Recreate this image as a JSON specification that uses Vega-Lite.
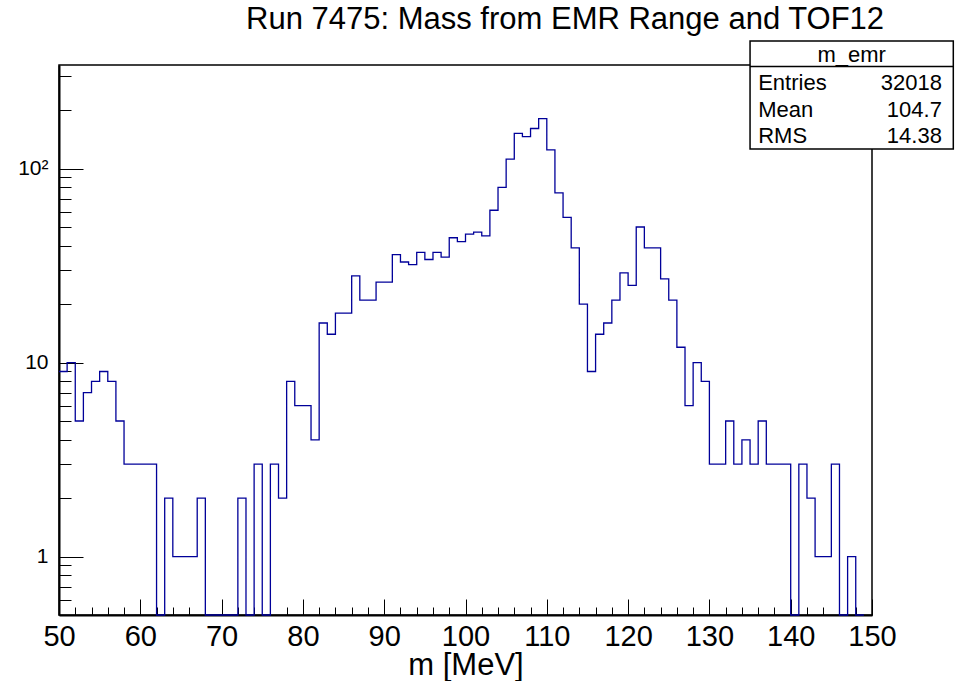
{
  "$schema": "https://vega.github.io/schema/vega-lite/v6.json",
  "width": 813,
  "height": 550,
  "autosize": {"type": "none"},
  "padding": {"left": 59, "top": 65, "right": 85, "bottom": 66},
  "background": "white",
  "title": {
    "text": "Run 7475: Mass from EMR Range and TOF12",
    "anchor": "start",
    "frame": "group",
    "dx": 187,
    "dy": 31,
    "offset": 11,
    "baseline": "alphabetic",
    "font": "Liberation Sans",
    "fontSize": 31,
    "fontWeight": "normal",
    "color": "black"
  },
  "config": {
    "view": {"stroke": "black", "strokeWidth": 1.5},
    "font": "Liberation Sans"
  },
  "resolve": {"scale": {"x": "independent", "y": "independent"}, "axis": {"x": "independent", "y": "independent"}},
  "layer": [
    {
      "data": {
        "values": [
          {"m": 50, "n": 9}, {"m": 51, "n": 10}, {"m": 52, "n": 5}, {"m": 53, "n": 7}, {"m": 54, "n": 8},
          {"m": 55, "n": 9}, {"m": 56, "n": 8}, {"m": 57, "n": 5}, {"m": 58, "n": 3}, {"m": 59, "n": 3},
          {"m": 60, "n": 3}, {"m": 61, "n": 3}, {"m": 62, "n": 0}, {"m": 63, "n": 2}, {"m": 64, "n": 1},
          {"m": 65, "n": 1}, {"m": 66, "n": 1}, {"m": 67, "n": 2}, {"m": 68, "n": 0}, {"m": 69, "n": 0},
          {"m": 70, "n": 0}, {"m": 71, "n": 0}, {"m": 72, "n": 2}, {"m": 73, "n": 0}, {"m": 74, "n": 3},
          {"m": 75, "n": 0}, {"m": 76, "n": 3}, {"m": 77, "n": 2}, {"m": 78, "n": 8}, {"m": 79, "n": 6},
          {"m": 80, "n": 6}, {"m": 81, "n": 4}, {"m": 82, "n": 16}, {"m": 83, "n": 14}, {"m": 84, "n": 18},
          {"m": 85, "n": 18}, {"m": 86, "n": 28}, {"m": 87, "n": 21}, {"m": 88, "n": 21}, {"m": 89, "n": 26},
          {"m": 90, "n": 26}, {"m": 91, "n": 36}, {"m": 92, "n": 33}, {"m": 93, "n": 32}, {"m": 94, "n": 37},
          {"m": 95, "n": 34}, {"m": 96, "n": 37}, {"m": 97, "n": 35}, {"m": 98, "n": 44}, {"m": 99, "n": 42},
          {"m": 100, "n": 46}, {"m": 101, "n": 47}, {"m": 102, "n": 45}, {"m": 103, "n": 61}, {"m": 104, "n": 80},
          {"m": 105, "n": 112}, {"m": 106, "n": 152}, {"m": 107, "n": 146}, {"m": 108, "n": 161}, {"m": 109, "n": 181},
          {"m": 110, "n": 125}, {"m": 111, "n": 75}, {"m": 112, "n": 56}, {"m": 113, "n": 39}, {"m": 114, "n": 20},
          {"m": 115, "n": 9}, {"m": 116, "n": 14}, {"m": 117, "n": 16}, {"m": 118, "n": 21}, {"m": 119, "n": 29},
          {"m": 120, "n": 25}, {"m": 121, "n": 50}, {"m": 122, "n": 39}, {"m": 123, "n": 39}, {"m": 124, "n": 27},
          {"m": 125, "n": 21}, {"m": 126, "n": 12}, {"m": 127, "n": 6}, {"m": 128, "n": 10}, {"m": 129, "n": 8},
          {"m": 130, "n": 3}, {"m": 131, "n": 3}, {"m": 132, "n": 5}, {"m": 133, "n": 3}, {"m": 134, "n": 4},
          {"m": 135, "n": 3}, {"m": 136, "n": 5}, {"m": 137, "n": 3}, {"m": 138, "n": 3}, {"m": 139, "n": 3},
          {"m": 140, "n": 0}, {"m": 141, "n": 3}, {"m": 142, "n": 2}, {"m": 143, "n": 1}, {"m": 144, "n": 1},
          {"m": 145, "n": 3}, {"m": 146, "n": 0}, {"m": 147, "n": 1}, {"m": 148, "n": 0}, {"m": 149, "n": 0}
        ]
      },
      "mark": {"type": "line", "interpolate": "step-after", "color": "#000099", "strokeWidth": 1.3, "invalid": "show"},
      "encoding": {
        "x": {
          "field": "m", "type": "quantitative",
          "scale": {"domain": [50, 150], "nice": false, "zero": false},
          "axis": {
            "orient": "bottom",
            "title": "m [MeV]",
            "titleFont": "Liberation Sans", "titleFontSize": 31, "titleFontWeight": "normal", "titleColor": "black",
            "titlePadding": -9,
            "tickCount": 200,
            "format": "d",
            "values": [50,52,54,56,58,60,62,64,66,68,70,72,74,76,78,80,82,84,86,88,90,92,94,96,98,100,102,104,106,108,110,112,114,116,118,120,122,124,126,128,130,132,134,136,138,140,142,144,146,148,150],
            "labelExpr": "datum.value % 10 === 0 ? datum.label : ''",
            "labelFont": "Liberation Sans", "labelFontSize": 29, "labelColor": "black",
            "labelPadding": 23, "labelFlush": false, "labelOverlap": false,
            "tickSize": {"condition": {"test": "datum.value % 10 === 0", "value": -16}, "value": -8},
            "tickColor": "black", "tickWidth": 1,
            "domainColor": "black", "domainWidth": 2,
            "grid": false
          }
        },
        "y": {
          "field": "n", "type": "quantitative",
          "scale": {"type": "log", "domain": [0.5, 342], "nice": false, "clamp": true},
          "axis": {
            "orient": "left",
            "title": null,
            "tickCount": 200,
            "values": [0.6,0.7,0.8,0.9,1,2,3,4,5,6,7,8,9,10,20,30,40,50,60,70,80,90,100,200,300],
            "labelExpr": "datum.value === 1 ? '1' : datum.value === 10 ? '10' : datum.value === 100 ? '10²' : ''",
            "labelFont": "Liberation Sans", "labelFontSize": 21, "labelColor": "black",
            "labelPadding": 35, "labelOverlap": false, "labelFlush": false,
            "tickSize": {"condition": {"test": "datum.value === 1 || datum.value === 10 || datum.value === 100", "value": -24}, "value": -12},
            "tickColor": "black", "tickWidth": 1,
            "domainColor": "black", "domainWidth": 2,
            "grid": false
          }
        }
      }
    },
    {
      "data": {"values": [{}]},
      "layer": [
        {
          "mark": {"type": "rect", "fill": "white", "stroke": "black", "strokeWidth": 1.5, "clip": false},
          "encoding": {
            "x": {"datum": 135, "type": "quantitative", "scale": {"domain": [50, 150], "nice": false, "zero": false}, "axis": null},
            "x2": {"datum": 160},
            "y": {"datum": 454.8, "type": "quantitative", "scale": {"type": "log", "domain": [0.5, 342], "nice": false}, "axis": null},
            "y2": {"datum": 126.2}
          }
        },
        {
          "mark": {"type": "rule", "stroke": "black", "strokeWidth": 1.5},
          "encoding": {
            "x": {"datum": 135, "type": "quantitative", "scale": {"domain": [50, 150], "nice": false, "zero": false}, "axis": null},
            "x2": {"datum": 160},
            "y": {"datum": 336, "type": "quantitative", "scale": {"type": "log", "domain": [0.5, 342], "nice": false}, "axis": null}
          }
        },
        {
          "mark": {"type": "text", "font": "Liberation Sans", "fontSize": 22, "align": "center", "baseline": "alphabetic", "color": "black"},
          "encoding": {
            "x": {"datum": 147.5, "type": "quantitative", "scale": {"domain": [50, 150], "nice": false, "zero": false}, "axis": null},
            "y": {"datum": 355.7, "type": "quantitative", "scale": {"type": "log", "domain": [0.5, 342], "nice": false}, "axis": null},
            "text": {"value": "m_emr"}
          }
        },
        {
          "mark": {"type": "text", "font": "Liberation Sans", "fontSize": 22, "align": "left", "baseline": "alphabetic", "color": "black"},
          "encoding": {
            "x": {"datum": 136, "type": "quantitative", "scale": {"domain": [50, 150], "nice": false, "zero": false}, "axis": null},
            "y": {"datum": 254.2, "type": "quantitative", "scale": {"type": "log", "domain": [0.5, 342], "nice": false}, "axis": null},
            "text": {"value": "Entries"}
          }
        },
        {
          "mark": {"type": "text", "font": "Liberation Sans", "fontSize": 22, "align": "left", "baseline": "alphabetic", "color": "black"},
          "encoding": {
            "x": {"datum": 136, "type": "quantitative", "scale": {"domain": [50, 150], "nice": false, "zero": false}, "axis": null},
            "y": {"datum": 184.5, "type": "quantitative", "scale": {"type": "log", "domain": [0.5, 342], "nice": false}, "axis": null},
            "text": {"value": "Mean"}
          }
        },
        {
          "mark": {"type": "text", "font": "Liberation Sans", "fontSize": 22, "align": "left", "baseline": "alphabetic", "color": "black"},
          "encoding": {
            "x": {"datum": 136, "type": "quantitative", "scale": {"domain": [50, 150], "nice": false, "zero": false}, "axis": null},
            "y": {"datum": 135.5, "type": "quantitative", "scale": {"type": "log", "domain": [0.5, 342], "nice": false}, "axis": null},
            "text": {"value": "RMS"}
          }
        },
        {
          "mark": {"type": "text", "font": "Liberation Sans", "fontSize": 22, "align": "right", "baseline": "alphabetic", "color": "black"},
          "encoding": {
            "x": {"datum": 158.6, "type": "quantitative", "scale": {"domain": [50, 150], "nice": false, "zero": false}, "axis": null},
            "y": {"datum": 254.2, "type": "quantitative", "scale": {"type": "log", "domain": [0.5, 342], "nice": false}, "axis": null},
            "text": {"value": "32018"}
          }
        },
        {
          "mark": {"type": "text", "font": "Liberation Sans", "fontSize": 22, "align": "right", "baseline": "alphabetic", "color": "black"},
          "encoding": {
            "x": {"datum": 158.6, "type": "quantitative", "scale": {"domain": [50, 150], "nice": false, "zero": false}, "axis": null},
            "y": {"datum": 184.5, "type": "quantitative", "scale": {"type": "log", "domain": [0.5, 342], "nice": false}, "axis": null},
            "text": {"value": "104.7"}
          }
        },
        {
          "mark": {"type": "text", "font": "Liberation Sans", "fontSize": 22, "align": "right", "baseline": "alphabetic", "color": "black"},
          "encoding": {
            "x": {"datum": 158.6, "type": "quantitative", "scale": {"domain": [50, 150], "nice": false, "zero": false}, "axis": null},
            "y": {"datum": 135.5, "type": "quantitative", "scale": {"type": "log", "domain": [0.5, 342], "nice": false}, "axis": null},
            "text": {"value": "14.38"}
          }
        }
      ]
    }
  ]
}
